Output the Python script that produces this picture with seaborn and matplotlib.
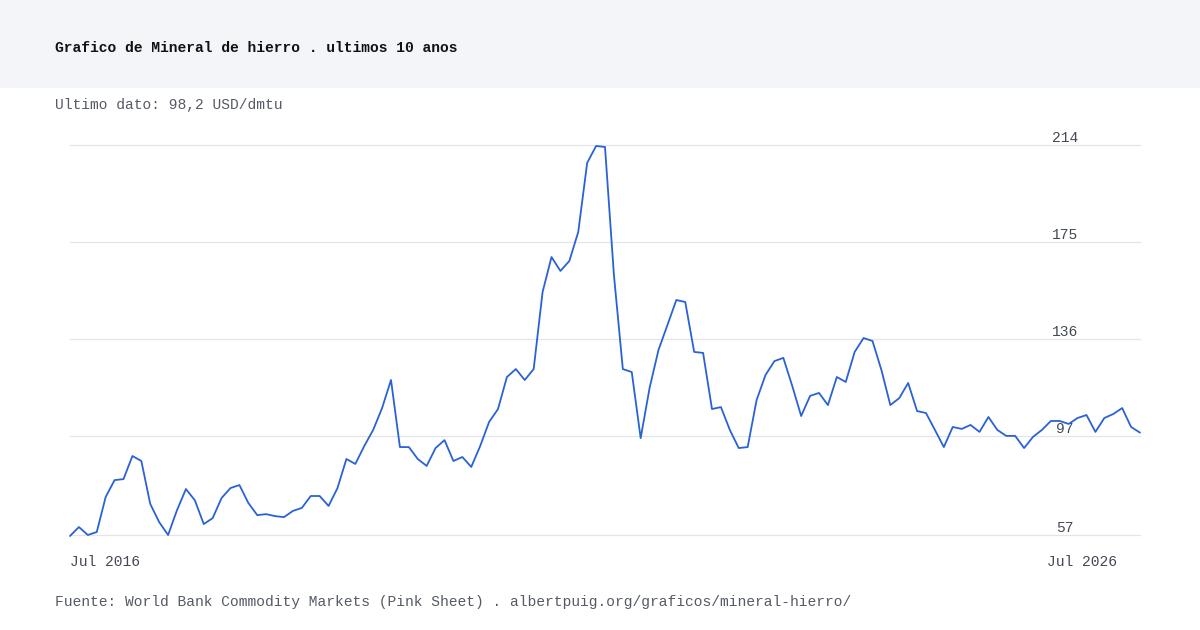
import numpy as np
import pandas as pd
import seaborn as sns
import matplotlib.pyplot as plt

# precio mensual del mineral de hierro (USD/dmtu)
precio = [56.6, 60.2, 57, 58.2, 72.3, 79.1, 79.5, 88.8, 86.8, 69.5, 62.2, 57, 67, 75.5, 71,
          61.4, 63.8, 71.9, 75.9, 77.1, 69.9, 65, 65.4, 64.6, 64.2, 66.7, 67.9, 72.7, 72.7,
          68.7, 75.9, 87.6, 85.6, 92.8, 99.3, 108.1, 119.4, 92.4, 92.4, 87.6, 84.8, 92, 95.2,
          86.8, 88.4, 84.4, 92.8, 102.5, 107.7, 120.6, 123.8, 119.4, 123.8, 154.8, 168.9,
          163.3, 167.3, 179, 206.8, 213.6, 213.2, 161.7, 123.8, 122.6, 96, 116.2, 131.5,
          141.5, 151.6, 150.8, 130.7, 130.3, 107.7, 108.5, 99.3, 92, 92.4, 111.3, 121.4, 127,
          128.3, 117, 104.9, 113, 114.2, 109.3, 120.6, 118.6, 130.7, 136.3, 135.1, 123.4,
          109.3, 112.1, 118.2, 106.9, 106.1, 99.3, 92.4, 100.5, 99.7, 101.3, 98.5, 104.5,
          99.3, 96.9, 96.9, 92, 96.5, 99.3, 102.9, 102.9, 101.7, 104.1, 105.3, 98.5, 104.1,
          105.7, 108.1, 100.5, 98.2]
y_ticks = [57, 97, 136, 175, 214]
x_labels = ["Jul 2016", "Jul 2026"]

df = pd.DataFrame({"mes": np.arange(len(precio)), "precio": precio})

sns.set_style("white")
plt.rcParams['font.family'] = ['Liberation Mono', 'DejaVu Sans Mono']

fig = plt.figure(figsize=(12, 6.3), dpi=100)
fig.patches.append(plt.Rectangle((0, 1 - 87 / 630), 1, 87 / 630, transform=fig.transFigure,
                                 color="#f3f5f8", zorder=0))
fig.text(55 / 1200, 1 - 48 / 630, "Grafico de Mineral de hierro . ultimos 10 anos",
         fontsize=10.5, fontweight="bold", color="#111111", va="center")
fig.text(55 / 1200, 1 - 105 / 630, "Ultimo dato: 98,2 USD/dmtu",
         fontsize=10.5, color="#555a66", va="center")
fig.text(55 / 1200, 1 - 602 / 630,
         "Fuente: World Bank Commodity Markets (Pink Sheet) . albertpuig.org/graficos/mineral-hierro/",
         fontsize=10.5, color="#555a66", va="center")

ax = fig.add_axes([70 / 1200, 1 - 535 / 630, 1070 / 1200, 390 / 630])
n = len(precio)
ax.set_xlim(0, n - 1)
ax.set_ylim(57, 214)
for v in y_ticks:
    ax.axhline(v, color="#e3e5e8", lw=0.9, zorder=1)
    ax.text(1065 / 1200 * 1200 / 1070 - 70 / 1070, v, str(v), transform=ax.get_yaxis_transform(),
            ha="center", va="bottom", fontsize=10.5, color="#444a55")
sns.lineplot(data=df, x="mes", y="precio", ax=ax, color="#2a62d6", lw=1.3, zorder=3)
for l in ax.lines:
    l.set_clip_on(False)
ax.set_xticks([]); ax.set_yticks([])
ax.set_xlabel(""); ax.set_ylabel("")
for s in ax.spines.values():
    s.set_visible(False)
ax.text(0, -0.07, x_labels[0], transform=ax.transAxes, ha="left", va="center",
        fontsize=10.5, color="#444a55")
ax.text((1117 - 70) / 1070, -0.07, x_labels[1], transform=ax.transAxes, ha="right",
        va="center", fontsize=10.5, color="#444a55")

fig.savefig("out.png", dpi=100)
